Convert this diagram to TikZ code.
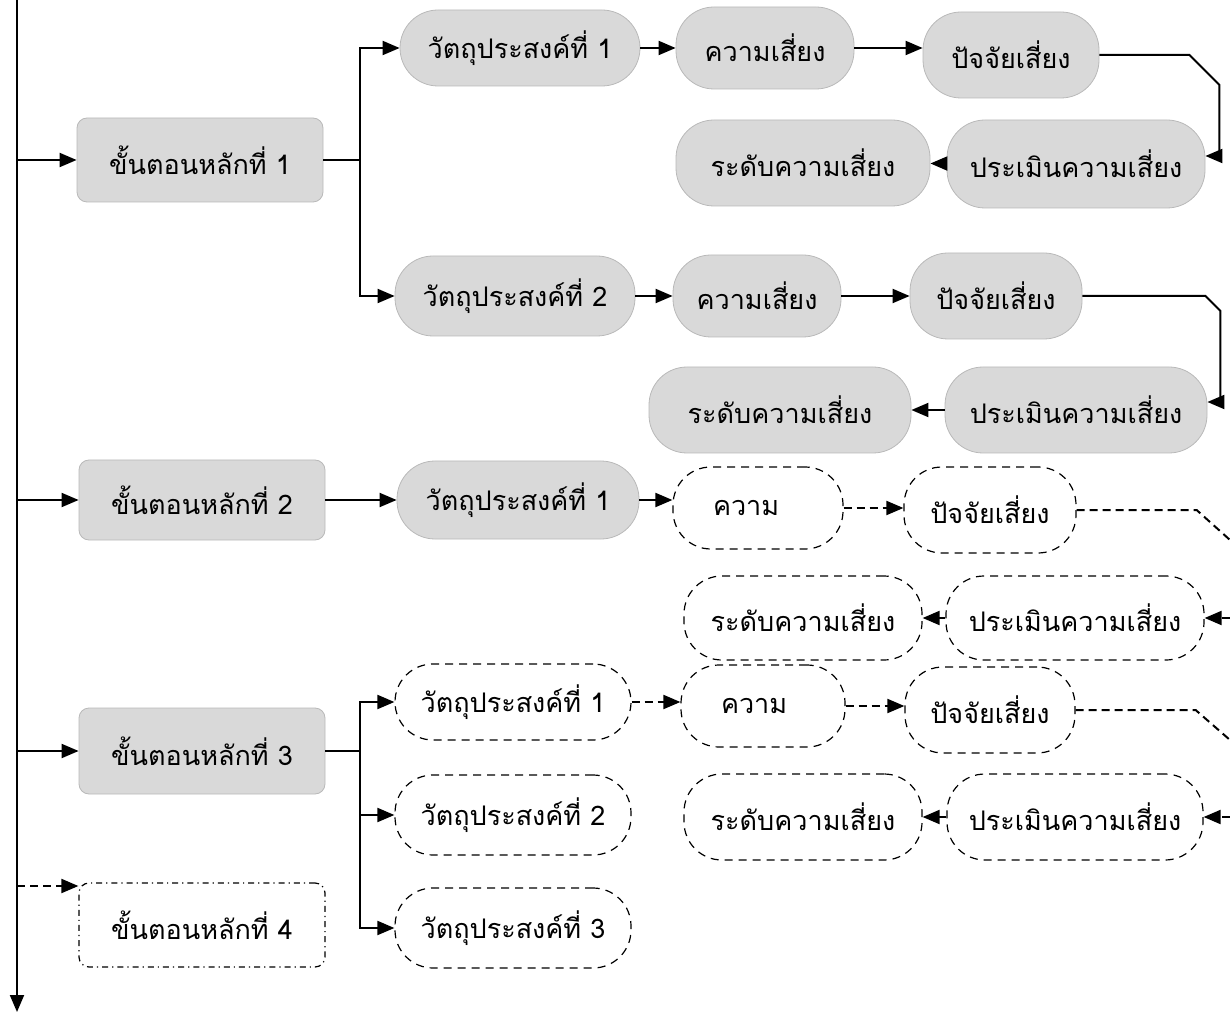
\documentclass[tikz,border=0pt]{standalone}
\usepackage{fontspec}
\newfontfamily\thaifont[Script=Thai]{Loma}
\usetikzlibrary{arrows.meta}
\begin{document}
\begin{tikzpicture}[x=0.5pt,y=-0.5pt,
  thai/.style={font=\thaifont\fontsize{13.5}{16}\selectfont},
  mainbox/.style={thai, rectangle, rounded corners=5pt, draw=gray!55, fill=gray!30, minimum width=123pt, minimum height=42pt},
  pill/.style={thai, rectangle, rounded corners=19pt, minimum height=41pt},
  graypill/.style={pill, draw=gray!55, fill=gray!30},
  dashpill/.style={pill, draw, line width=0.6pt, dash pattern=on 4pt off 3pt},
  shortpill/.style={dashpill, align=left, inner xsep=20pt, text width=45pt},
  link/.style={line width=1pt, -{Triangle[length=8.5pt,width=7pt]}},
  dashlink/.style={link, dash pattern=on 4pt off 2.5pt},
  plain/.style={line width=1pt},
  dashplain/.style={line width=1pt, dash pattern=on 4pt off 2.5pt}]
\useasboundingbox (0,0) rectangle (1230,1015);
% main steps
\node[mainbox] (main1) at (200,160) {ขั้นตอนหลักที่ 1};
\node[mainbox, minimum height=40pt] (main2) at (202,500) {ขั้นตอนหลักที่ 2};
\node[mainbox, minimum height=43pt] (main3) at (202,751) {ขั้นตอนหลักที่ 3};
\node[mainbox, fill=none, draw=black, line width=0.6pt, dash pattern=on 3pt off 2pt on 0.6pt off 2pt] (main4) at (202,925) {ขั้นตอนหลักที่ 4};
\coordinate (top) at (17,0);
\coordinate (bottom) at (17,1012);
\coordinate (m1) at (17,160);
\coordinate (m2) at (17,500);
\coordinate (m3) at (17,751);
\coordinate (m4) at (17,886);
\draw[link] (top) -- (bottom);
\draw[link] (m1) -- (main1);
\draw[link] (m2) -- (main2);
\draw[link] (m3) -- (main3);
\draw[dashlink] (m4) -- (m4 -| main4.west);
% step 1, objective 1
\node[graypill, minimum width=120pt, minimum height=38pt] (obj11) at (520,48) {วัตถุประสงค์ที่ 1};
\node[graypill, minimum width=89pt] (risk11) at (765,48) {ความเสี่ยง};
\node[graypill, minimum width=88pt, minimum height=43pt] (fac11) at (1011,55) {ปัจจัยเสี่ยง};
\node[graypill, minimum width=129pt, minimum height=44pt] (eval11) at (1076,164) {ประเมินความเสี่ยง};
\node[graypill, minimum width=127pt, minimum height=43pt] (level11) at (803,163) {ระดับความเสี่ยง};
\coordinate (j1) at (360,160);
\draw[plain] (main1) -- (j1);
\draw[link] (j1) |- (obj11);
\draw[link] (obj11) -- (risk11);
\draw[link] (risk11) -- (risk11 -| fac11.west);
\draw[link] (fac11.east) -- ++(90,0) -- ++(30,30) |- ([yshift=4pt]eval11.east);
\draw[link] (eval11) -- (level11);
% step 1, objective 2
\node[graypill, minimum width=120pt, minimum height=40pt] (obj12) at (515,296) {วัตถุประสงค์ที่ 2};
\node[graypill, minimum width=84pt] (risk12) at (757,296) {ความเสี่ยง};
\node[graypill, minimum width=86pt, minimum height=43pt] (fac12) at (996,296) {ปัจจัยเสี่ยง};
\node[graypill, minimum width=131pt, minimum height=43pt] (eval12) at (1076,410) {ประเมินความเสี่ยง};
\node[graypill, minimum width=131pt, minimum height=43pt] (level12) at (780,410) {ระดับความเสี่ยง};
\draw[link] (j1) |- (obj12);
\draw[link] (obj12) -- (risk12);
\draw[link] (risk12) -- (fac12);
\draw[link] (fac12.east) -- ++(123,0) -- ++(15,15) |- ([yshift=4pt]eval12.east);
\draw[link] (eval12) -- (level12);
% step 2
\node[graypill, minimum width=121pt, minimum height=39pt] (obj21) at (518,500) {วัตถุประสงค์ที่ 1};
\node[shortpill] (risk21) at (758,508) {ความ};
\node[dashpill, minimum width=86pt, minimum height=43pt] (fac21) at (990,510) {ปัจจัยเสี่ยง};
\node[dashpill, minimum width=129pt, minimum height=42pt] (eval21) at (1075,618) {ประเมินความเสี่ยง};
\node[dashpill, minimum width=119pt, minimum height=42pt] (level21) at (803,618) {ระดับความเสี่ยง};
\coordinate (off21) at (1230,540);
\coordinate (in21) at (1230,618);
\draw[link] (main2) -- (obj21);
\draw[link] (obj21) -- (obj21 -| risk21.west);
\draw[dashlink] (risk21) -- (risk21 -| fac21.west);
\draw[dashplain] (fac21.east) -- ++(120,0) -- (off21);
\draw[dashlink] (in21) -- (eval21);
\draw[dashlink] (eval21) -- (level21);
% step 3
\node[dashpill, minimum width=118pt, minimum height=38pt] (obj31) at (513,702) {วัตถุประสงค์ที่ 1};
\node[dashpill, minimum width=118pt, minimum height=40pt] (obj32) at (513,815) {วัตถุประสงค์ที่ 2};
\node[dashpill, minimum width=118pt, minimum height=40pt] (obj33) at (513,928) {วัตถุประสงค์ที่ 3};
\node[shortpill, text width=42pt] (risk31) at (763,706) {ความ};
\node[dashpill, minimum width=85pt, minimum height=43pt] (fac31) at (990,710) {ปัจจัยเสี่ยง};
\node[dashpill, minimum width=128pt, minimum height=43pt] (eval31) at (1075,817) {ประเมินความเสี่ยง};
\node[dashpill, minimum width=119pt, minimum height=43pt] (level31) at (803,817) {ระดับความเสี่ยง};
\coordinate (j3) at (360,751);
\coordinate (off31) at (1230,740);
\coordinate (in31) at (1230,817);
\draw[plain] (main3) -- (j3);
\draw[link] (j3) |- (obj31);
\draw[link] (j3) |- (obj32);
\draw[link] (j3) |- (obj33);
\draw[dashlink] (obj31) -- (obj31 -| risk31.west);
\draw[dashlink] (risk31) -- (risk31 -| fac31.west);
\draw[dashplain] (fac31.east) -- ++(120,0) -- (off31);
\draw[dashlink] (in31) -- (eval31);
\draw[dashlink] (eval31) -- (level31);
\end{tikzpicture}
\end{document}
